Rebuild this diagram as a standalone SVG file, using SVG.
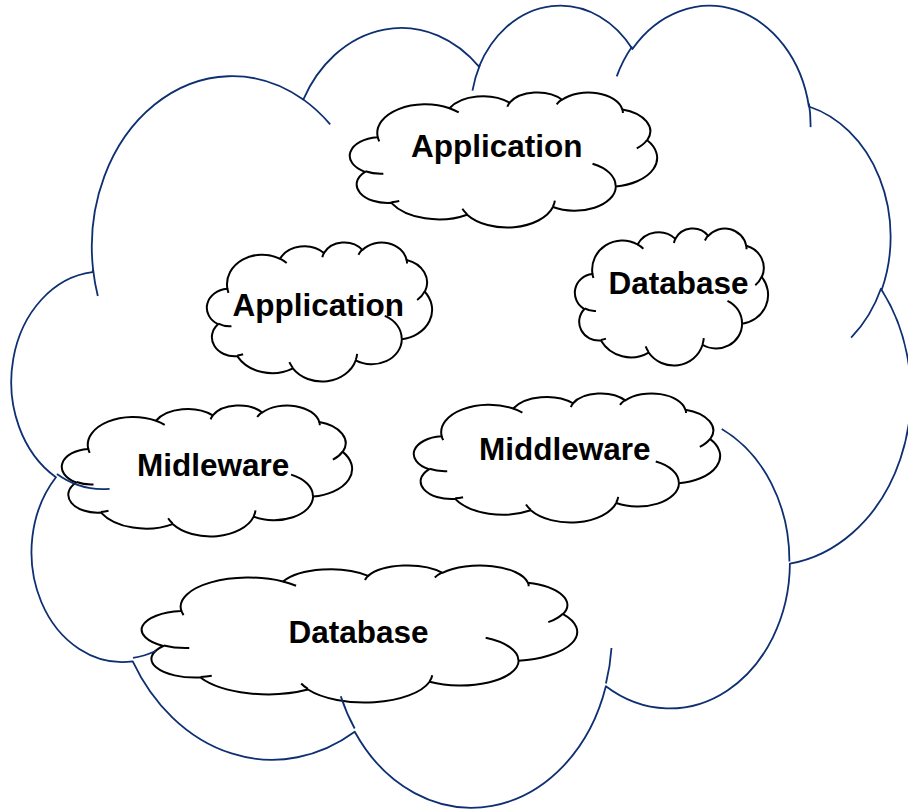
<svg xmlns="http://www.w3.org/2000/svg" xmlns:xlink="http://www.w3.org/1999/xlink" width="908" height="809" viewBox="0 0 908 809">
  <style>
    .outline { vector-effect: non-scaling-stroke; stroke-linejoin: round; stroke-linecap: butt; }
    .small .body { fill: #ffffff; stroke: #000000; stroke-width: 2; }
    .small .seams { fill: none; stroke: #000000; stroke-width: 2; }
    .big .body { fill: none; stroke: #0e2f72; stroke-width: 1.8; }
    .big .seams { fill: none; stroke: #0e2f72; stroke-width: 1.8; }
    .label { font-family: "Liberation Sans", Arial, sans-serif; font-weight: bold; font-size: 31.5px; fill: #000000; }
  </style>
  <defs>
    <!-- cloud outline in a 0..100 box (eleven elliptical bumps) -->
    <path id="cloud-body" class="outline" d="M 9.028 33.264
      A 15.632 21.273 0 0 1 32.420 12.043
      A 12.345 16.822 0 0 1 51.982 7.943
      A 10.104 13.762 0 0 1 69.059 5.740
      A 11.243 15.266 0 0 1 88.700 12.909
      A 12.345 16.836 0 0 1 96.802 35.788
      A 15.683 21.343 0 0 1 86.587 69.920
      A 13.391 18.211 0 0 1 66.103 85.220
      A 15.630 21.331 0 0 1 38.151 90.891
      A 17.870 24.405 0 0 1 13.438 82.106
      A 10.093 13.699 0 0 1 4.892 59.141
      A 10.058 13.762 0 0 1 8.943 33.577 Z"/>
    <!-- short inner strokes where the bumps overlap -->
    <path id="cloud-seams" class="outline" d="M 10.863 60.595 A 10.058 13.762 0 0 1 5.000 58.750
      M 16.037 80.785 A 10.093 13.699 0 0 1 13.470 81.668
      M 38.144 90.486 A 15.630 21.331 0 0 1 36.598 86.460
      M 66.729 80.442 A 15.630 21.331 0 0 1 66.112 84.863
      M 79.002 53.134 A 13.391 18.211 0 0 1 86.529 69.652
      M 96.755 35.542 A 12.345 16.836 0 0 1 93.403 41.737
      M 88.713 12.560 A 11.243 15.266 0 0 1 88.890 15.482
      M 67.310 9.148 A 11.243 15.266 0 0 1 69.028 5.416
      M 51.252 10.926 A 10.104 13.762 0 0 1 52.084 7.708
      M 32.407 12.019 A 15.632 21.273 0 0 1 35.416 15.140
      M 9.553 36.549 A 15.632 21.273 0 0 1 9.028 33.264"/>
  </defs>

  <rect x="0" y="0" width="908" height="809" fill="#ffffff"/>

  <g id="app-top" class="small">
    <g transform="translate(350,92) scale(3.07,1.35)">
      <use class="body" xlink:href="#cloud-body" href="#cloud-body"/>
      <use class="seams" xlink:href="#cloud-seams" href="#cloud-seams"/>
    </g>
    <text class="label" x="411" y="156.5">Application</text>
  </g>

  <g id="app-left" class="small">
    <g transform="translate(207,242) scale(2.25,1.39)">
      <use class="body" xlink:href="#cloud-body" href="#cloud-body"/>
      <use class="seams" xlink:href="#cloud-seams" href="#cloud-seams"/>
    </g>
    <text class="label" x="232.5" y="316">Application</text>
  </g>

  <g id="db-right" class="small">
    <g transform="translate(575,228) scale(1.93,1.37)">
      <use class="body" xlink:href="#cloud-body" href="#cloud-body"/>
      <use class="seams" xlink:href="#cloud-seams" href="#cloud-seams"/>
    </g>
    <text class="label" x="608.5" y="294">Database</text>
  </g>

  <g id="mid-left" class="small">
    <g transform="translate(62,405) scale(2.90,1.31)">
      <use class="body" xlink:href="#cloud-body" href="#cloud-body"/>
      <use class="seams" xlink:href="#cloud-seams" href="#cloud-seams"/>
    </g>
    <text class="label" x="137" y="476">Midleware</text>
  </g>

  <g id="mid-right" class="small">
    <g transform="translate(414,393) scale(3.06,1.29)">
      <use class="body" xlink:href="#cloud-body" href="#cloud-body"/>
      <use class="seams" xlink:href="#cloud-seams" href="#cloud-seams"/>
    </g>
    <text class="label" x="479" y="460">Middleware</text>
  </g>

  <g id="db-bottom" class="small">
    <g transform="translate(142,565) scale(4.35,1.37)">
      <use class="body" xlink:href="#cloud-body" href="#cloud-body"/>
      <use class="seams" xlink:href="#cloud-seams" href="#cloud-seams"/>
    </g>
    <text class="label" x="288.5" y="643">Database</text>
  </g>

  <!-- enclosing cloud, outline only, drawn last -->
  <g id="outer-cloud" class="big">
    <g transform="translate(12,3) scale(8.984,8.018)">
      <use class="body" xlink:href="#cloud-body" href="#cloud-body"/>
      <use class="seams" xlink:href="#cloud-seams" href="#cloud-seams"/>
    </g>
  </g>

  <g id="connectors"/>
</svg>
